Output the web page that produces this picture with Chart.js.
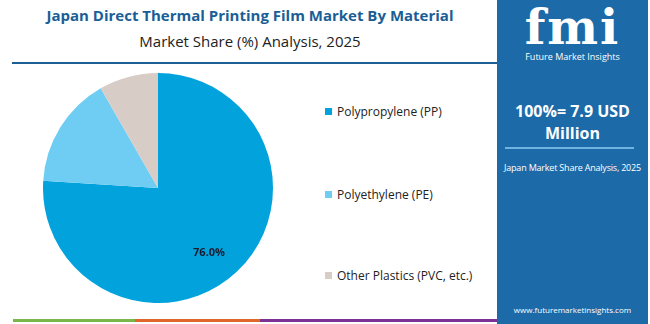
<!DOCTYPE html>
<html lang="en">
<head>
  <meta charset="UTF-8" />
  <title>Japan Direct Thermal Printing Film Market By Material</title>
  <script src="https://cdn.jsdelivr.net/npm/chart.js"></script>
  <style>
    body { margin: 0; width: 650px; height: 324px; overflow: hidden; background: #fff; font-family: "Open Sans", Lato, sans-serif; position: relative; }
    .title { position: absolute; left: 0; width: 500px; top: 5px; text-align: center; font-weight: 700; font-size: 15px; color: #1b5e96; }
    .subtitle { position: absolute; left: 0; width: 500px; top: 31px; text-align: center; font-size: 15px; color: #222; }
    .rule { position: absolute; left: 12px; top: 62px; width: 486px; height: 2px; background: #1d5f94; }
    .bottom { position: absolute; top: 319px; height: 3px; }
    #chartBox { position: absolute; left: 43px; top: 73px; width: 230px; height: 230px; }
    .legend { position: absolute; left: 325px; font-size: 12px; color: #222; }
    .legend span { display: inline-block; width: 7px; height: 7px; margin-right: 5px; vertical-align: 1px; }
    .panel { position: absolute; left: 497px; top: 0; width: 151px; height: 324px; background: #1c6aa8; color: #fff; text-align: center; }
    .logo { position: absolute; top: 2px; width: 100%; font-family: "DejaVu Serif", serif; font-weight: 700; font-size: 48px; line-height: 50px; letter-spacing: 2px; }
    .logosub { position: absolute; top: 50px; width: 100%; font-size: 9px; }
    .big { position: absolute; top: 100px; width: 100%; font-weight: 700; font-size: 16px; line-height: 22px; }
    .divline { position: absolute; top: 147px; left: 8px; width: 129px; height: 2px; background: #6db3e3; }
    .small { position: absolute; top: 161px; left: -5px; width: 161px; font-size: 9px; white-space: nowrap; letter-spacing: -0.2px; }
    .url { position: absolute; top: 304px; width: 100%; font-size: 8px; }
  </style>
</head>
<body>
  <div class="title">Japan Direct Thermal Printing Film Market By Material</div>
  <div class="subtitle">Market Share (%) Analysis, 2025</div>
  <div class="rule"></div>

  <div id="chartBox"><canvas id="pieChart"></canvas></div>
  <div id="legend"></div>

  <div class="bottom" style="left:13px;width:122px;background:#7ab648;"></div>
  <div class="bottom" style="left:135px;width:125px;background:#e0672b;"></div>
  <div class="bottom" style="left:260px;width:240px;background:#7b3294;"></div>

  <div class="panel">
    <div class="logo">fmi</div>
    <div class="logosub">Future Market Insights</div>
    <div class="big">100%= 7.9 USD<br>Million</div>
    <div class="divline"></div>
    <div class="small">Japan Market Share Analysis, 2025</div>
    <div class="url">www.futuremarketinsights.com</div>
  </div>

  <script>
    const categories = ["Polypropylene (PP)", "Polyethylene (PE)", "Other Plastics (PVC, etc.)"];
    const shares = [76.0, 15.7, 8.3];
    const colors = ["#02a3dc", "#6fcdf3", "#d8ccc7"];
    const legendTops = [103, 186, 267];

    // legend built from the same arrays
    const legendEl = document.getElementById("legend");
    categories.forEach((c, i) => {
      const d = document.createElement("div");
      d.className = "legend";
      d.style.top = legendTops[i] + "px";
      d.innerHTML = `<span style="background:${colors[i]}"></span>${c}`;
      legendEl.appendChild(d);
    });

    // only the big slice carries a label
    const sliceLabel = {
      id: "sliceLabel",
      afterDatasetsDraw(chart) {
        const ctx = chart.ctx;
        const arc = chart.getDatasetMeta(0).data[0];
        const mid = (arc.startAngle + arc.endAngle) / 2 + 0.09;
        const r = arc.outerRadius * 0.72;
        ctx.save();
        ctx.font = "bold 11px 'Open Sans', sans-serif";
        ctx.fillStyle = "#1a1a2e";
        ctx.textAlign = "center";
        ctx.textBaseline = "middle";
        ctx.fillText(shares[0].toFixed(1) + "%", arc.x + Math.cos(mid) * r, arc.y + Math.sin(mid) * r);
        ctx.restore();
      }
    };

    new Chart(document.getElementById("pieChart"), {
      type: "pie",
      data: {
        labels: categories,
        datasets: [{ data: shares, backgroundColor: colors, borderWidth: 0 }]
      },
      options: {
        responsive: true,
        maintainAspectRatio: false,
        animation: false,
        plugins: { legend: { display: false }, tooltip: { enabled: false } }
      },
      plugins: [sliceLabel]
    });
  </script>
</body>
</html>
